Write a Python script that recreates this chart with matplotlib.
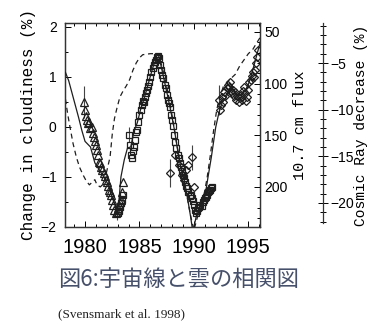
import matplotlib
matplotlib.use("Agg")
import matplotlib.pyplot as plt
from matplotlib.ticker import MultipleLocator, FixedLocator

# ---- data ----
# cloud cover (%) : triangles, squares, diamonds
tri_year = [1979.9, 1980.0, 1980.1, 1980.2, 1980.3, 1980.4, 1980.5, 1980.6, 1980.7,
            1980.8, 1980.9, 1981.0, 1981.1, 1981.2, 1981.3, 1981.4, 1981.5, 1981.6,
            1981.7, 1981.8, 1981.9, 1982.0, 1982.1, 1982.2, 1982.3, 1982.4, 1982.5,
            1982.6, 1982.7, 1982.8, 1982.9, 1983.0, 1983.1, 1983.2, 1983.3, 1983.4, 1983.5]
tri_cloud = [0.50, 0.35, 0.22, 0.15, 0.08, 0.10, -0.02, 0.00, -0.12,
             -0.20, -0.28, -0.35, -0.46, -0.55, -0.70, -0.72, -0.80, -0.85,
             -0.92, -0.98, -1.05, -1.10, -1.18, -1.25, -1.30, -1.35, -1.45,
             -1.55, -1.65, -1.72, -1.70, -1.62, -1.55, -1.50, -1.45, -1.30, -1.10]

sq_year = [1983.0, 1983.1, 1983.2, 1983.3, 1983.4, 1983.5,
           1984.0, 1984.1, 1984.2, 1984.3, 1984.4, 1984.5, 1984.6, 1984.7, 1984.8, 1984.9,
           1985.0, 1985.1, 1985.2, 1985.3, 1985.4, 1985.5, 1985.6, 1985.7, 1985.8, 1985.9,
           1986.0, 1986.1, 1986.2, 1986.3, 1986.4, 1986.5, 1986.6, 1986.7, 1986.8, 1986.9,
           1987.0, 1987.1, 1987.2, 1987.3, 1987.4, 1987.5, 1987.6, 1987.7, 1987.8, 1987.9,
           1988.0, 1988.1, 1988.2, 1988.3, 1988.4, 1988.5, 1988.6, 1988.7, 1988.8, 1988.9,
           1989.0, 1989.1, 1989.2, 1989.3, 1989.4, 1989.5, 1989.6, 1989.7, 1989.8, 1989.9,
           1990.0, 1990.1, 1990.2, 1990.3, 1990.4, 1990.5, 1990.6, 1990.7, 1990.8, 1990.9,
           1991.0, 1991.1, 1991.2, 1991.3, 1991.4, 1991.5, 1991.6, 1991.7]
sq_cloud = [-1.72, -1.68, -1.60, -1.52, -1.45, -1.35,
            -0.15, -0.35, -0.55, -0.62, -0.48, -0.40, -0.25, -0.10, -0.05, 0.10,
            0.25, 0.35, 0.45, 0.52, 0.50, 0.60, 0.68, 0.75, 0.82, 0.90,
            1.00, 1.10, 1.18, 1.25, 1.30, 1.35, 1.40, 1.42, 1.38, 1.25,
            1.15, 1.05, 0.98, 0.85, 0.78, 0.65, 0.55, 0.48, 0.40, 0.25,
            0.15, 0.02, -0.15, -0.30, -0.42, -0.55, -0.62, -0.72, -0.80, -0.88,
            -0.95, -1.02, -1.10, -1.18, -1.22, -1.30, -1.38, -1.35, -1.42, -1.48,
            -1.55, -1.65, -1.72, -1.68, -1.62, -1.60, -1.55, -1.58, -1.50, -1.45,
            -1.42, -1.40, -1.35, -1.30, -1.28, -1.25, -1.22, -1.20]

dia_year = [1987.8, 1988.3, 1988.6, 1988.9, 1989.1, 1989.3, 1989.5, 1989.8, 1990.0,
            1992.3, 1992.4, 1992.5, 1992.6, 1992.7, 1992.8, 1992.9, 1993.0, 1993.1,
            1993.2, 1993.3, 1993.4, 1993.5, 1993.6, 1993.7, 1993.8, 1993.9, 1994.0,
            1994.1, 1994.2, 1994.3, 1994.4, 1994.5, 1994.6, 1994.7, 1994.8, 1994.9,
            1995.0, 1995.1, 1995.2, 1995.3, 1995.4, 1995.5, 1995.6, 1995.7, 1995.8, 1995.9]
dia_cloud = [-0.92, -0.55, -0.75, -0.95, -1.05, -0.85, -0.75, -0.60, -1.20,
             0.55, 0.35, 0.45, 0.60, 0.50, 0.70, 0.62, 0.78, 0.85,
             0.80, 0.90, 0.72, 0.68, 0.75, 0.62, 0.70, 0.55, 0.62,
             0.50, 0.58, 0.65, 0.55, 0.72, 0.80, 0.68, 0.52, 0.60,
             0.75, 0.90, 0.95, 1.02, 1.10, 1.00, 1.15, 1.28, 1.40, 1.55]

# a few points carry visible error bars
err_year = [1979.9, 1982.9, 1987.8, 1989.8, 1992.3, 1984.0]
err_cloud = [0.50, -1.70, -0.92, -0.60, 0.55, -0.15]
err_size = [0.32, 0.15, 0.28, 0.25, 0.30, 0.15]

# cosmic ray decrease (%)  - solid line
cr_year = [1978.2, 1978.5, 1978.8, 1979.1, 1979.4, 1979.7, 1980.0, 1980.5, 1980.9,
           1981.5, 1981.9, 1982.2, 1982.5, 1982.8, 1982.95, 1983.1, 1983.3, 1983.6,
           1983.9, 1984.2, 1984.5, 1984.8, 1985.1, 1985.4, 1985.7, 1986.0, 1986.3,
           1986.6, 1986.8, 1987.0, 1987.3, 1987.6, 1987.9, 1988.2, 1988.5, 1988.8,
           1989.1, 1989.4, 1989.7, 1989.9, 1990.3, 1990.7, 1991.0, 1991.3, 1991.6,
           1992.0, 1992.3, 1992.6, 1992.9, 1993.2, 1993.5, 1993.8, 1994.1, 1994.4,
           1994.7, 1995.0, 1995.3, 1995.6, 1995.9, 1996.1]
cr_val = [-6.0, -6.9, -8.2, -9.5, -10.8, -12.2, -13.4, -14.0, -15.7,
          -16.8, -17.5, -18.3, -19.4, -20.4, -21.1, -20.0, -17.2, -15.4,
          -14.1, -14.0, -12.3, -11.4, -10.0, -8.9, -7.7, -6.4, -5.2,
          -4.5, -4.4, -5.4, -7.0, -8.6, -10.3, -12.1, -14.3, -16.2,
          -17.5, -19.4, -21.5, -23.1, -21.0, -20.2, -19.4, -17.2, -15.1,
          -11.9, -10.3, -9.2, -8.8, -8.1, -7.8, -8.2, -8.5, -8.4,
          -8.0, -7.3, -6.2, -4.9, -3.6, -2.7]

# 10.7 cm solar flux - dashed line
flux_year = [1978.2, 1978.4, 1978.6, 1978.9, 1979.2, 1979.5, 1979.8, 1980.1, 1980.4,
             1980.7, 1980.9, 1981.1, 1981.4, 1981.7, 1981.9, 1982.1, 1982.3, 1982.5,
             1982.7, 1982.9, 1983.2, 1983.5, 1983.8, 1984.1, 1984.4, 1984.7, 1985.0,
             1985.3, 1986.0, 1986.7, 1987.0, 1987.3, 1987.6, 1987.9, 1988.2, 1988.5,
             1988.8, 1989.1, 1989.4, 1989.7, 1990.0, 1990.3, 1990.6, 1990.9, 1991.2,
             1991.5, 1991.8, 1992.1, 1992.4, 1992.7, 1993.0, 1993.4, 1993.8, 1994.2,
             1994.6, 1995.0, 1995.4, 1995.8, 1996.1]
flux_val = [115, 129, 141, 158, 171, 181, 188, 194, 198,
            195, 193, 198, 200, 197, 189, 180, 171, 149,
            134, 125, 113, 107, 102, 96, 87, 80, 75,
            72, 71, 71, 81, 93, 108, 125, 144, 163,
            182, 197, 211, 228, 242, 230, 218, 209, 192,
            170, 146, 125, 112, 103, 99, 95, 91, 83,
            77, 71, 67, 60, 55]

ink = "#1e1e1e"

# ---- figure ----
fig = plt.figure(figsize=(3.68, 3.30), dpi=100)
ax = fig.add_axes([65/368, 1-227/330, 195/368, 204/330])

ax.errorbar(err_year, err_cloud, yerr=err_size, fmt="none", ecolor="#444444", elinewidth=0.8)
ax.plot(tri_year, tri_cloud, ls="none", marker="^", ms=5.5, mfc="none", mec=ink, mew=0.9)
ax.plot(sq_year, sq_cloud, ls="none", marker="s", ms=4.8, mfc="none", mec=ink, mew=0.9)
ax.plot(dia_year, dia_cloud, ls="none", marker="D", ms=4.3, mfc="none", mec=ink, mew=0.9)

ax.set_xlim(1978.16, 1996.07)
ax.set_ylim(-2.0, 2.08)
ax.xaxis.set_major_locator(FixedLocator([1980, 1985, 1990, 1995]))
ax.xaxis.set_minor_locator(MultipleLocator(1))
ax.yaxis.set_major_locator(MultipleLocator(1))
ax.yaxis.set_minor_locator(MultipleLocator(0.5))
ax.tick_params(which="both", direction="in", top=True, right=False, width=0.7)
ax.tick_params(which="major", length=4)
ax.tick_params(which="minor", length=2.5)
ax.tick_params(axis="x", labelsize=14.5, pad=8)
ax.tick_params(axis="y", labelsize=10, pad=6)
for lab in ax.get_xticklabels():
    lab.set_family("Liberation Sans")
for lab in ax.get_yticklabels():
    lab.set_family("Liberation Sans")
ax.set_ylabel("Change in cloudiness (%)", family="Liberation Mono", fontsize=11.5, labelpad=3)
for s in ax.spines.values():
    s.set_linewidth(0.9)
    s.set_color("#333333")

# flux axis (inverted) on the right spine
axf = ax.twinx()
axf.plot(flux_year, flux_val, color=ink, lw=0.9, ls=(0, (4, 3)))
axf.set_ylim(238.8, 41.3)
axf.yaxis.set_major_locator(FixedLocator([50, 100, 150, 200]))
axf.yaxis.set_minor_locator(MultipleLocator(10))
axf.tick_params(which="both", direction="in", width=0.7, labelsize=10, pad=3)
axf.tick_params(which="major", length=4)
axf.tick_params(which="minor", length=2.5)
for lab in axf.get_yticklabels():
    lab.set_family("Liberation Sans")
axf.set_ylabel("10.7 cm flux", family="Liberation Mono", fontsize=11, labelpad=4)
for s in axf.spines.values():
    s.set_linewidth(0.9)
    s.set_color("#333333")

# cosmic ray axis, detached to the right
axc = ax.twinx()
axc.plot(cr_year, cr_val, color=ink, lw=0.9)
axc.set_ylim(-22.58, -0.71)
axc.spines["right"].set_position(("axes", 1 + 63/195))
axc.spines["right"].set_bounds(-22.1, -0.71)
axc.spines["right"].set_linewidth(0.9)
axc.spines["right"].set_color("#333333")
for k in ["left", "top", "bottom"]:
    axc.spines[k].set_visible(False)
axc.patch.set_visible(False)
axc.yaxis.set_major_locator(FixedLocator([-5, -10, -15, -20]))
axc.yaxis.set_minor_locator(FixedLocator(list(range(-22, 0))))
axc.tick_params(which="both", direction="inout", width=0.7, labelsize=10, pad=2)
axc.tick_params(which="major", length=7)
axc.tick_params(which="minor", length=4)
for lab in axc.get_yticklabels():
    lab.set_family("Liberation Sans")
axc.set_ylabel("Cosmic Ray decrease (%)", family="Liberation Mono", fontsize=10.5, labelpad=0)

# caption
fig.text(58/368, 1-280/330, "図6:宇宙線と雲の相関図", family=["Noto Sans CJK JP", "DejaVu Sans"],
         fontsize=16, color="#46506a", ha="left", va="center")
fig.text(58/368, 1-314/330, "(Svensmark et al. 1998)", family="Liberation Serif",
         fontsize=9.5, color="#222222", ha="left", va="center")

fig.savefig("out.png", dpi=100)
